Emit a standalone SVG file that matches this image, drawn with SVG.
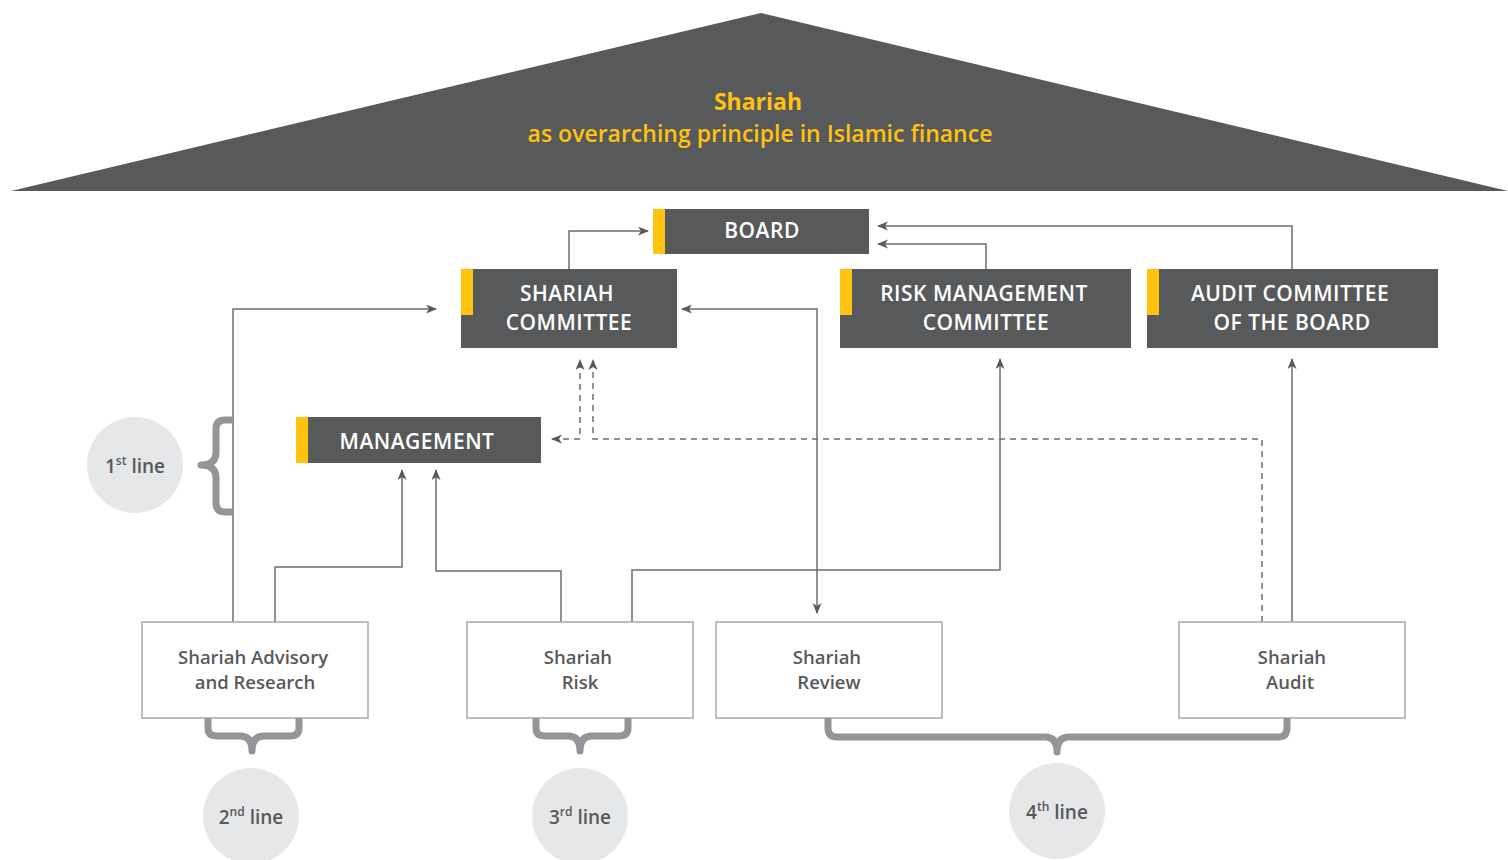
<svg xmlns="http://www.w3.org/2000/svg" width="1508" height="860" viewBox="0 0 1508 860">
<style>
.dark{fill:#58595B}
.bar{fill:#FFC20E}
.wbox{fill:#FFFFFF;stroke:#A7A9AC;stroke-width:1.5}
.lbl{font-family:"Open Sans","Liberation Sans",sans-serif;font-size:21px;font-weight:600;fill:#FFFFFF;text-anchor:middle;letter-spacing:0.5px}
.wlbl{font-family:"Open Sans","Liberation Sans",sans-serif;font-size:18.5px;font-weight:600;fill:#58595B;text-anchor:middle}
.title{font-family:"Open Sans","Liberation Sans",sans-serif;fill:#FFC20E;text-anchor:middle}
.conn{fill:none;stroke:#6D6E71;stroke-width:1.5}
.dash{stroke-dasharray:6,5}
.brace{fill:none;stroke:#939598;stroke-width:7;stroke-linejoin:round}
.circ{fill:#E6E7E8}
.clbl{font-family:"Open Sans","Liberation Sans",sans-serif;font-size:19px;font-weight:600;fill:#58595B;text-anchor:middle}
</style>
<defs>
<marker id="arr" markerUnits="userSpaceOnUse" markerWidth="12" markerHeight="10" refX="10" refY="4.5" orient="auto-start-reverse">
<path d="M0,0 L11,4.5 L0,9 L3,4.5 Z" fill="#58595B"/>
</marker>
</defs>
<g id="roof">
<polygon points="11,191 761,13 1508,191" class="dark"/>
<text class="title" x="758" y="110" font-size="23" font-weight="bold">Shariah</text>
<text class="title" x="760" y="142" font-size="23" font-weight="600">as overarching principle in Islamic finance</text>
</g>
<g id="connectors">
<path class="conn" d="M569,269 V231 H648" marker-end="url(#arr)"/>
<path class="conn" d="M986,269 V244 H878" marker-end="url(#arr)"/>
<path class="conn" d="M1292,269 V226 H878" marker-end="url(#arr)"/>
<path class="conn" d="M233,622 V309 H436" marker-end="url(#arr)"/>
<path class="conn" d="M275,622 V567 H402 V470" marker-end="url(#arr)"/>
<path class="conn" d="M561,622 V571 H436 V470" marker-end="url(#arr)"/>
<path class="conn" d="M632,622 V570 H1000 V359" marker-end="url(#arr)"/>
<path class="conn" d="M682,309 H817 V613" marker-start="url(#arr)" marker-end="url(#arr)"/>
<path class="conn" d="M1292,622 V359" marker-end="url(#arr)"/>
<path class="conn dash" d="M1262,622 V439 H593 V360" marker-end="url(#arr)"/>
<path class="conn dash" d="M552,439 H580 V360" marker-start="url(#arr)" marker-end="url(#arr)"/>
</g>
<g id="board">
<rect x="653" y="209" width="216" height="45" class="dark"/>
<rect x="653" y="209" width="12" height="45" class="bar"/>
<text class="lbl" x="762" y="238">BOARD</text>
</g>
<g id="shariah-committee">
<rect x="461" y="269" width="216" height="79" class="dark"/>
<rect x="461" y="269" width="12" height="46" class="bar"/>
<text class="lbl" x="567" y="301">SHARIAH</text>
<text class="lbl" x="569" y="330">COMMITTEE</text>
</g>
<g id="risk-management-committee">
<rect x="840" y="269" width="291" height="79" class="dark"/>
<rect x="840" y="269" width="12" height="46" class="bar"/>
<text class="lbl" x="984" y="301">RISK MANAGEMENT</text>
<text class="lbl" x="986" y="330">COMMITTEE</text>
</g>
<g id="audit-committee">
<rect x="1147" y="269" width="291" height="79" class="dark"/>
<rect x="1147" y="269" width="12" height="46" class="bar"/>
<text class="lbl" x="1290" y="301">AUDIT COMMITTEE</text>
<text class="lbl" x="1292" y="330">OF THE BOARD</text>
</g>
<g id="management">
<rect x="296" y="417" width="245" height="46" class="dark"/>
<rect x="296" y="417" width="12" height="46" class="bar"/>
<text class="lbl" x="417" y="449">MANAGEMENT</text>
</g>
<g id="shariah-advisory">
<rect x="142" y="622" width="226" height="96" class="wbox"/>
<text class="wlbl" x="253" y="664">Shariah Advisory</text>
<text class="wlbl" x="255" y="689">and Research</text>
</g>
<g id="shariah-risk">
<rect x="467" y="622" width="226" height="96" class="wbox"/>
<text class="wlbl" x="578" y="664">Shariah</text>
<text class="wlbl" x="580" y="689">Risk</text>
</g>
<g id="shariah-review">
<rect x="716" y="622" width="226" height="96" class="wbox"/>
<text class="wlbl" x="827" y="664">Shariah</text>
<text class="wlbl" x="829" y="689">Review</text>
</g>
<g id="shariah-audit">
<rect x="1179" y="622" width="226" height="96" class="wbox"/>
<text class="wlbl" x="1292" y="664">Shariah</text>
<text class="wlbl" x="1290" y="689">Audit</text>
</g>
<g id="line1">
<path class="brace" d="M233,420 H225 Q216,420 216,429 V452 Q216,465 201,465 Q216,465 216,478 V503 Q216,512 225,512 H233"/>
<circle cx="135" cy="465" r="48" class="circ"/>
<text class="clbl" x="135" y="473">1<tspan font-size="12" dy="-8">st</tspan><tspan dy="8"> line</tspan></text>
</g>
<g id="line2">
<path class="brace" d="M208,718 V728 Q208,736 217,736 H240 Q252,736 252,751 Q252,736 264,736 H290 Q299,736 299,728 V718"/>
<circle cx="251" cy="816" r="48" class="circ"/>
<text class="clbl" x="251" y="824">2<tspan font-size="12" dy="-8">nd</tspan><tspan dy="8"> line</tspan></text>
</g>
<g id="line3">
<path class="brace" d="M536,718 V728 Q536,736 545,736 H568 Q580,736 580,751 Q580,736 592,736 H619 Q628,736 628,728 V718"/>
<circle cx="580" cy="816" r="48" class="circ"/>
<text class="clbl" x="580" y="824">3<tspan font-size="12" dy="-8">rd</tspan><tspan dy="8"> line</tspan></text>
</g>
<g id="line4">
<path class="brace" d="M828,718 V728 Q828,737 837,737 H1045 Q1057,737 1057,752 Q1057,737 1069,737 H1278 Q1287,737 1287,728 V718"/>
<circle cx="1057" cy="811" r="48" class="circ"/>
<text class="clbl" x="1057" y="819">4<tspan font-size="12" dy="-8">th</tspan><tspan dy="8"> line</tspan></text>
</g>
</svg>
